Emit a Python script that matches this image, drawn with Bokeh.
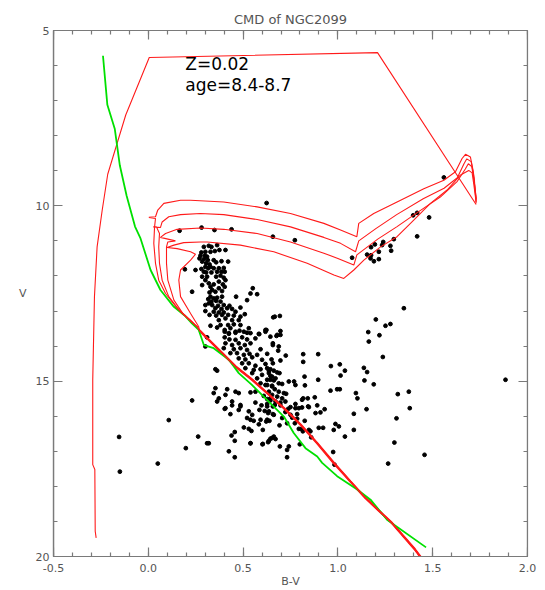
from bokeh.plotting import figure
from bokeh.models import Range1d, FixedTicker, NumeralTickFormatter, LinearAxis
from bokeh.core.properties import value
from bokeh.embed import file_html
from bokeh.resources import INLINE

# ---------------- data (B-V, V) ----------------
# turn-off region stars
bv_to = [0.293,0.319,0.333,0.363,0.375,0.407,0.280,0.301,0.328,0.351,
         0.275,0.298,0.310,0.270,0.293,0.314,0.345,0.284,0.305,0.323,
         0.358,0.386,0.421,0.301,0.328,0.316,0.280,0.345,0.372,0.398,
         0.249,0.293,0.305,0.333,0.363,0.386,0.403,0.284,0.310,0.301,
         0.358,0.381,0.398,0.407,0.372,0.319,0.284,0.345,0.393,0.403,
         0.328,0.372,0.337,0.323,0.354,0.389,0.231,0.551,0.539,0.574,
         0.463,0.521,0.328,0.316,0.345,0.363,0.389,0.333,0.358,0.381,
         0.319,0.301,0.337,0.368,0.398,0.428,0.354,0.386,0.416,0.442,
         0.486,0.301,0.345,0.372,0.398,0.460,0.509,0.323,0.358,0.389,
         0.421,0.451,0.486,0.407,0.372,0.442,0.477,0.328,0.381,0.363,
         0.421,0.451,0.486,0.403,0.433,0.460,0.504,0.530,0.618,0.667,
         0.539,0.425]
v_to = [11.17,11.14,11.17,11.12,11.26,11.26,11.33,11.31,11.31,11.29,
        11.42,11.42,11.45,11.50,11.52,11.55,11.55,11.59,11.64,11.67,
        11.61,11.58,11.59,11.74,11.74,11.78,11.80,11.78,11.78,11.77,
        11.83,11.88,11.90,11.90,11.88,11.88,11.88,12.02,12.02,12.12,
        12.02,11.99,12.05,12.12,12.16,12.21,12.26,12.24,12.24,12.31,
        12.31,12.35,12.40,12.47,12.45,12.43,12.45,12.35,12.50,12.52,
        12.59,12.69,12.59,12.66,12.64,12.62,12.59,12.73,12.71,12.73,
        12.78,12.83,12.83,12.85,12.83,12.85,12.92,12.94,12.92,12.94,
        12.90,13.00,13.02,13.04,13.04,13.02,13.09,13.11,13.13,13.11,
        13.11,13.13,13.16,13.21,13.26,13.26,13.26,13.42,13.40,13.47,
        13.40,13.38,13.40,13.54,13.49,13.59,13.59,13.49,13.54,13.16,
        13.63,13.63]

# upper main sequence
bv_ms1 = [0.403,0.425,0.460,0.481,0.521,0.583,0.618,0.403,0.428,0.460,
          0.495,0.521,0.565,0.644,0.407,0.442,0.477,0.509,0.539,0.398,
          0.451,0.486,0.521,0.592,0.657,0.433,0.468,0.504,0.534,0.574,
          0.627,0.477,0.512,0.548,0.600,0.650,0.310,0.301,0.354,0.363,
          0.495,0.530,0.565,0.618,0.657,0.512,0.556,0.592,0.636,0.548,
          0.600,0.644,0.574,0.627,0.662,0.592,0.618,0.653,0.354,0.416,
          0.460,0.477,0.539,0.565,0.407,0.609,0.644,0.372,0.442,0.231,
          0.363,0.486,0.565,0.627,0.407,0.345]
v_ms1 = [13.59,13.65,13.62,13.56,13.62,13.65,13.59,13.75,13.81,13.82,
         13.75,13.81,13.78,13.73,13.92,13.97,13.92,13.97,13.92,14.06,
         14.09,14.06,14.11,14.09,13.97,14.20,14.20,14.25,14.22,14.25,
         14.22,14.35,14.38,14.32,14.39,14.38,13.75,14.01,14.66,14.70,
         14.49,14.49,14.56,14.51,14.49,14.63,14.68,14.66,14.70,14.77,
         14.82,14.85,14.92,14.96,14.98,15.06,15.11,15.15,15.20,15.23,
         15.30,15.34,15.32,15.30,15.39,15.42,15.49,15.49,15.58,15.55,
         15.58,15.68,15.61,15.65,15.77,15.34]

bv_ms2 = [0.680,0.697,0.657,0.688,0.685,0.697,0.741,0.776,0.627,0.644,
          0.662,0.680,0.692,0.636,0.653,0.671,0.644,0.688,0.706,0.627,
          0.653,0.667,0.636,0.688,0.715,0.727,0.653,0.680,0.706,0.627,
          0.644,0.671,0.697,0.723,0.776,0.811,0.667,0.750,0.847,0.794]
v_ms2 = [13.68,13.68,13.92,14.01,14.13,14.41,15.01,15.11,14.63,14.66,
         14.70,14.75,14.77,14.77,14.87,14.92,14.96,15.06,15.08,15.11,
         15.13,15.23,15.30,15.30,15.34,15.36,15.39,15.44,15.49,15.51,
         15.55,15.58,15.61,15.58,15.65,15.53,15.68,15.74,15.74,15.77]

bv_ms3 = [0.403,0.442,0.477,0.486,0.530,0.586,0.597,0.614,0.636,0.657,
          0.433,0.548,0.521,0.539,0.556,0.592,0.627,0.504,0.530,0.544,
          0.583,0.604,0.456,0.439,0.662,0.644,0.310,0.319,0.456,0.539,
          0.604,0.632,0.425,0.456]
v_ms3 = [15.79,15.69,15.82,15.72,15.86,15.82,15.69,15.85,15.86,15.94,
         15.94,15.96,16.05,16.10,16.13,16.10,16.10,16.32,16.36,16.42,
         16.23,16.39,16.45,16.55,16.58,16.64,16.77,16.77,16.70,16.77,
         16.79,16.74,17.00,17.17]

bv_ms4 = [0.627,0.657,0.697,0.738,0.776,0.811,0.843,0.882,0.632,0.662,
          0.723,0.750,0.785,0.706,0.759,0.785,0.732,0.773,0.825,0.622,
          0.639,0.692,0.794,0.808,0.815,0.847,0.978,0.636,0.732]
v_ms4 = [15.72,15.72,15.69,15.79,15.77,15.75,15.72,15.91,15.91,15.96,
         15.88,15.96,15.94,16.05,16.04,16.07,16.20,16.20,16.13,16.15,
         16.13,16.26,16.36,16.36,16.43,16.39,16.39,16.70,16.96]

# field stars to the red of the main sequence
bv_field = [1.348,1.200,1.251,1.277,1.160,1.219,1.163,1.237,0.659,0.694,
            0.623,0.697,0.585,0.676,0.817,0.896,0.817,0.725,0.963,1.010,
            1.037,1.137,1.154,1.014,0.824,0.896,0.769,1.140,1.189,0.961,
            0.996,1.010,1.095,1.103,1.374,1.316,0.826,0.878,0.817,0.841,
            0.891,0.930,0.908,1.151,1.379,1.084,1.309,0.987,1.005,0.899,
            0.922,1.084,1.037,0.855,0.859,0.799,1.298,0.975,1.457,0.982,
            1.265,0.732,0.741,0.694,0.602,0.653,0.671,0.539]
v_field = [12.92,13.24,13.42,13.37,13.60,13.69,13.87,14.31,13.18,13.14,
           13.54,13.57,13.66,13.71,14.23,14.23,14.45,14.27,14.57,14.52,
           14.70,14.62,14.74,14.84,14.87,14.96,15.01,14.98,15.09,15.27,
           15.23,15.23,15.34,15.49,15.30,15.37,15.12,15.46,15.49,15.49,
           15.69,15.80,15.89,15.80,15.77,15.93,16.06,16.22,16.29,16.33,
           16.33,16.39,16.58,16.43,16.60,16.80,16.75,17.02,17.10,17.38,
           17.35,17.17,16.86,16.86,16.80,16.62,16.65,16.77]

# giants and bright stars
bv_giant = [1.559,1.397,1.418,1.481,1.418,1.295,1.239,1.195,1.175,1.277,
            1.233,1.281,1.216,1.154,1.175,1.075,1.172,1.216,1.190,0.624,
            0.281,0.349,0.439,0.165,0.657,0.773]
v_giant = [9.19,10.27,10.20,10.33,10.87,10.95,11.03,11.10,11.18,11.14,
           11.12,11.28,11.31,11.39,11.41,11.48,11.50,11.52,11.58,9.92,
           10.62,10.69,10.67,10.71,10.88,10.98]

# isolated stars
bv_out = [0.193,0.108,-0.154,0.263,0.198,0.050,-0.150,1.884]
v_out = [11.81,16.11,16.59,16.58,16.91,17.35,17.58,14.96]

# green line (ZAMS)
zams_bv = [-0.239,-0.216,-0.177,-0.150,-0.114,-0.070,-0.041,0.012,0.064,0.135,
           0.190,0.230,0.266,0.293,0.345,0.425,0.477,0.545,0.609,0.715,
           0.767,0.829,0.891,0.917,0.996,1.102,1.172,1.259,1.465]
zams_v = [5.72,7.12,7.80,8.85,9.72,10.59,10.93,11.83,12.40,12.88,
          13.12,13.35,13.54,13.97,14.06,14.39,14.77,15.10,15.44,16.01,
          16.48,16.91,17.15,17.33,17.71,18.09,18.38,18.95,19.74]

# isochrones: common lower main sequence
ms_bv = [1.438,1.405,1.286,1.145,1.066,0.978,0.891,0.803,0.715,0.627,
         0.548,0.460,0.390,0.302,0.270]
ms_v = [20.03,19.79,19.05,18.33,17.86,17.33,16.77,16.24,15.77,15.34,
        14.96,14.58,14.20,13.73,13.55]

# log age 8.4
isoA_bv = [0.258,0.223,0.152,0.091,0.055,0.038,0.029,0.033,0.038,0.003,
           0.038,0.050,0.082,0.170,0.223,0.398,0.574,0.750,0.926,1.014,
           1.100,1.110,1.189,1.312,1.453,1.559,1.620,1.655,1.673,1.699,
           1.713,1.720,1.729]
isoA_v = [13.45,13.26,12.92,12.50,12.12,11.64,11.07,10.60,10.36,10.33,
          10.31,10.12,9.93,9.84,9.84,9.89,10.03,10.22,10.50,10.69,
          10.88,10.50,10.22,9.89,9.51,9.27,9.03,8.65,8.53,8.61,
          8.99,9.27,9.93]
# log age 8.5
isoB_bv = [0.258,0.170,0.108,0.073,0.059,0.055,0.059,0.043,0.026,0.064,
           0.073,0.108,0.170,0.275,0.398,0.574,0.750,0.926,1.014,1.093,
           1.110,1.200,1.310,1.450,1.560,1.630,1.665,1.680,1.703,1.715,
           1.722,1.730]
isoB_v = [13.45,13.02,12.59,12.12,11.64,11.17,10.79,10.60,10.60,10.62,
          10.46,10.31,10.25,10.22,10.25,10.39,10.60,10.90,11.07,11.31,
          11.00,10.65,10.25,9.80,9.50,9.20,8.80,8.66,8.74,9.10,
          9.45,9.80]
# log age 8.6
isoC_bv = [0.258,0.187,0.135,0.103,0.096,0.096,0.103,0.143,0.064,0.091,
           0.152,0.275,0.398,0.574,0.750,0.926,1.000,1.084,1.100,1.210,
           1.310,1.430,1.540,1.630,1.672,1.688,1.706,1.716,1.724,1.730]
isoC_v = [13.45,13.11,12.69,12.12,11.64,11.17,11.03,11.00,10.90,10.79,
          10.67,10.63,10.67,10.79,11.03,11.35,11.50,11.69,11.40,10.95,
          10.60,10.15,9.75,9.30,8.95,8.80,8.88,9.20,9.55,9.85]
# log age 8.7
isoD_bv = [0.266,0.223,0.170,0.161,0.170,0.223,0.249,0.223,0.152,0.099,
           0.135,0.187,0.275,0.311,0.486,0.662,0.838,0.979,1.031,1.084,
           1.137,1.225,1.312,1.400,1.488,1.576,1.647,1.690,1.708,1.717,
           1.729]
isoD_v = [13.45,13.07,12.59,12.12,11.83,11.55,11.38,11.31,11.22,11.19,
          11.12,11.05,11.03,11.03,11.12,11.31,11.64,11.97,12.07,11.83,
          11.55,11.17,10.88,10.41,9.93,9.55,9.12,8.99,9.06,9.40,
          9.89]

# odd very young track
young_bv = [-0.275,-0.280,-0.282,-0.293,-0.293,-0.284,-0.270,-0.243,-0.214,-0.168,
            -0.119,0.005,1.209,1.729]
young_v = [19.47,19.28,17.52,17.38,14.96,12.59,11.17,10.12,9.10,8.28,
           7.41,5.77,5.63,9.96]

note_text = ["Z=0.02", "age=8.4-8.7"]
note_bv = [0.195, 0.195]
note_v = [5.95, 6.56]

X_LO, X_HI = -0.5, 2.0
Y_BRIGHT, Y_FAINT = 5, 20
x_major = [-0.5, 0.0, 0.5, 1.0, 1.5, 2.0]
y_major = [5, 10, 15, 20]
x_minor = [round(-0.5 + 0.1 * i, 2) for i in range(26)]
y_minor = list(range(5, 21))

# ---------------- figure ----------------
FRAME = "#7a7a7a"
LABEL = "#555555"
FONT = "DejaVu Sans"

p = figure(width=545, height=590, x_range=Range1d(X_LO, X_HI), y_range=Range1d(Y_FAINT, Y_BRIGHT),
           output_backend="svg", toolbar_location=None, title="CMD of NGC2099",
           min_border_left=53, min_border_right=18, min_border_top=30, min_border_bottom=33)
p.grid.visible = False
p.outline_line_color = FRAME
p.outline_line_width = 1.2
p.background_fill_color = "white"
p.border_fill_color = "white"

p.title.text_font = FONT
p.title.text_font_size = "13px"
p.title.text_font_style = "normal"
p.title.text_color = LABEL
p.title.align = "center"
p.title.standoff = 8


def label_axis(ax, ticker):
    # labels only (ticks are drawn by the tick axes below)
    ax.ticker = ticker
    ax.major_tick_in = 0
    ax.major_tick_out = 0
    ax.minor_tick_in = 0
    ax.minor_tick_out = 0
    ax.axis_line_color = FRAME
    ax.axis_line_width = 1.2
    ax.major_label_text_font = FONT
    ax.major_label_text_color = LABEL
    ax.major_label_text_font_size = "11px"
    ax.axis_label_text_font = FONT
    ax.axis_label_text_font_size = "11px"
    ax.axis_label_text_font_style = "normal"
    ax.axis_label_text_color = LABEL


def tick_axis(ticks, minor, fixed):
    ax = LinearAxis(ticker=FixedTicker(ticks=ticks, minor_ticks=minor))
    ax.fixed_location = fixed
    ax.major_tick_in = 9
    ax.major_tick_out = 0
    ax.minor_tick_in = 4
    ax.minor_tick_out = 0
    ax.axis_line_color = FRAME
    ax.axis_line_width = 1.2
    ax.major_tick_line_color = FRAME
    ax.minor_tick_line_color = FRAME
    ax.major_tick_line_width = 1.2
    ax.minor_tick_line_width = 1.2
    ax.major_label_overrides = {t: "" for t in ticks}
    ax.major_label_standoff = 0
    return ax


xa = p.xaxis[0]
label_axis(xa, FixedTicker(ticks=x_major))
xa.formatter = NumeralTickFormatter(format="0.0")
xa.axis_label = "B-V"
xa.major_label_standoff = 7
xa.axis_label_standoff = 0

ya = p.yaxis[0]
label_axis(ya, FixedTicker(ticks=y_major))
ya.formatter = NumeralTickFormatter(format="0")
ya.axis_label = "V"
ya.major_label_standoff = 4
ya.axis_label_standoff = 6
try:
    ya.axis_label_orientation = "horizontal"
except Exception:
    ya.axis_label_standoff = 4

p.add_layout(tick_axis(x_major, x_minor, Y_FAINT), "below")
p.add_layout(tick_axis(x_major, x_minor, Y_BRIGHT), "above")
p.add_layout(tick_axis(y_major, y_minor, X_LO), "left")
p.add_layout(tick_axis(y_major, y_minor, X_HI), "right")

# stars
star_bv = bv_to + bv_ms1 + bv_ms2 + bv_ms3 + bv_ms4 + bv_field + bv_giant + bv_out
star_v = v_to + v_ms1 + v_ms2 + v_ms3 + v_ms4 + v_field + v_giant + v_out
p.scatter(x=star_bv, y=star_v, marker="circle", size=3.8, color="black")

RED = "#ff1a1a"
p.line(x=young_bv, y=young_v, color=RED, line_width=1.1)
p.line(x=ms_bv, y=ms_v, color=RED, line_width=2.4)
p.line(x=zams_bv, y=zams_v, color="#00e000", line_width=1.8)
for ubv, uv in [(isoA_bv, isoA_v), (isoB_bv, isoB_v), (isoC_bv, isoC_v), (isoD_bv, isoD_v)]:
    p.line(x=ms_bv + ubv, y=ms_v + uv, color=RED, line_width=1.1)

p.text(x=note_bv, y=note_v, text=note_text, text_font=value(FONT),
       text_font_size=value("17px"), text_baseline="middle", text_align="left",
       text_color="black")

open("out.html", "w").write(file_html(p, INLINE))
